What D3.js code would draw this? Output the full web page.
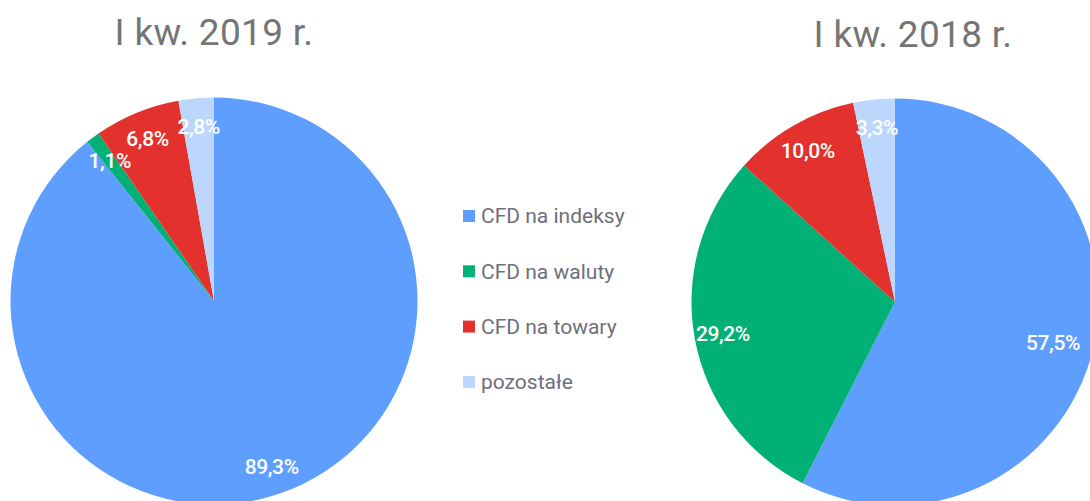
<!DOCTYPE html>
<html>
<head>
<meta charset="utf-8">
<script src="https://cdn.jsdelivr.net/npm/d3@7"></script>
<style>
  body { margin: 0; background: #fff; }
  svg { display: block; font-family: Roboto, "Noto Sans", sans-serif; }
</style>
</head>
<body>
<svg id="chart"></svg>
<script>
var width = 1090,
  height = 501;

// data
var categories = ["CFD na indeksy", "CFD na waluty", "CFD na towary", "pozostałe"];
var values2019 = [89.3, 1.1, 6.8, 2.8];
var values2018 = [57.5, 29.2, 10.0, 3.3];
var titles = ["I kw. 2019 r.", "I kw. 2018 r."];
var colors = ["#5e9efe", "#00b074", "#e3322d", "#bdd6fc"];

var svg = d3.select("#chart").attr("width", width).attr("height", height);

var color = d3.scaleOrdinal().domain(categories).range(colors);

var pie = d3.pie().sort(null).value(function (d) { return d.value; });

function fmt(v) {
  return v.toFixed(1).replace(".", ",") + "%";
}

function drawPie(values, title, cx, cy, r, titleX, titleY) {
  var data = categories.map(function (c, i) {
    return { name: c, value: values[i] };
  });

  var arc = d3.arc().innerRadius(0).outerRadius(r);
  var labelArc = d3.arc().innerRadius(r * 0.86).outerRadius(r * 0.86);

  var g = svg.append("g").attr("transform", "translate(" + cx + "," + cy + ")");

  g.selectAll("path")
    .data(pie(data))
    .enter()
    .append("path")
    .attr("d", arc)
    .attr("fill", function (d) { return color(d.data.name); });

  g.selectAll(".lbl")
    .data(pie(data))
    .enter()
    .append("text")
    .attr("class", "lbl")
    .attr("text-anchor", "middle")
    .attr("dy", "0.35em")
    .attr("fill", "#fff")
    .attr("font-size", "21px")
    .attr("font-weight", 500)
    .attr("letter-spacing", "-0.4px")
    .text(function (d) { return fmt(d.data.value); })
    .attr("transform", function (d) {
      var p = labelArc.centroid(d);
      // keep label inside the visible area
      var half = this.getComputedTextLength() / 2;
      var maxX = width - 10 - cx - half;
      if (p[0] > maxX) p[0] = maxX;
      return "translate(" + p + ")";
    });

  svg.append("text")
    .attr("x", titleX)
    .attr("y", titleY)
    .attr("text-anchor", "middle")
    .attr("fill", "#757575")
    .attr("font-size", "37px")
    .attr("letter-spacing", "0.3px")
    .text(title);
}

drawPie(values2019, titles[0], 214, 301, 203.5, 214, 45);
drawPie(values2018, titles[1], 895, 302, 203.5, 913, 47);

// legend
var legend = svg.append("g").attr("transform", "translate(463,216)");
var item = legend.selectAll(".item")
  .data(categories)
  .enter()
  .append("g")
  .attr("class", "item")
  .attr("transform", function (d, i) { return "translate(0," + i * 55.3 + ")"; });

item.append("rect")
  .attr("x", 0)
  .attr("y", -6)
  .attr("width", 12)
  .attr("height", 12)
  .attr("fill", function (d) { return color(d); });

item.append("text")
  .attr("x", 18)
  .attr("dy", "0.35em")
  .attr("fill", "#6f6f7b")
  .attr("font-size", "21px")
  .text(function (d) { return d; });
</script>
</body>
</html>
